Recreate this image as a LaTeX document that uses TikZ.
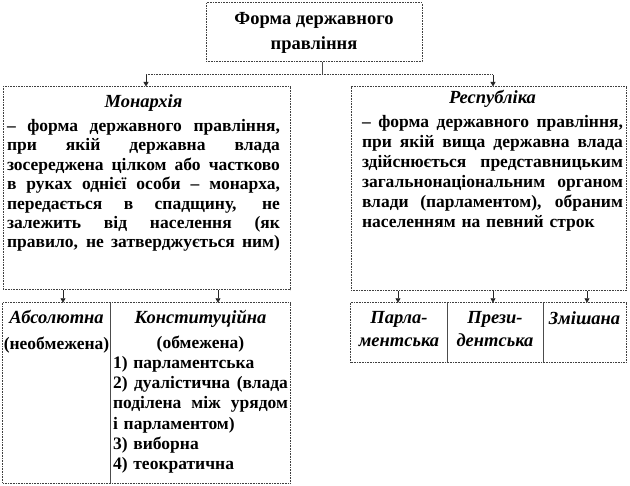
\documentclass[tikz,border=0pt]{standalone}
\usepackage{fontspec}
\setmainfont{Liberation Serif}
\usetikzlibrary{arrows.meta, positioning, calc}
\newlength\colw
\newcommand\bodyfont{\fontsize{17.5}{19.5}\selectfont\bfseries}
\newcommand\headfont{\fontsize{18.5}{25}\selectfont\bfseries}
\newcommand\itfont{\fontsize{18.5}{23}\selectfont\bfseries\itshape}
\newcommand\jline[1]{\makebox[\colw][s]{\spaceskip=0pt\xspaceskip=0pt #1}}
\newcommand\midline[1]{\makebox[\colw][c]{#1}}
\tikzset{
  arr/.style     = {-{Triangle[length=4.5pt, width=5pt]}, line width=0.8pt, draw=black!85},
  dotline/.style = {draw=black!75, line width=1pt, dash pattern=on 0.8pt off 0.8pt},
  dbox/.style    = {dotline, rectangle, inner sep=0pt},
  cell/.style    = {rectangle, inner sep=0pt},
  sepline/.style = {draw=black!70, line width=0.9pt},
  txt/.style     = {inner sep=0pt, align=left, font=\bodyfont},
  col/.style     = {txt, text width=#1, execute at begin node={\setlength\colw{#1}}},
}

\begin{document}
\begin{tikzpicture}[x=1pt, y=-1pt]
\useasboundingbox (0,0) rectangle (630,486);

%% ---- (1) Form of government ----
\node[dbox, minimum width=216pt, minimum height=59pt, align=center, font=\headfont] (form) at (314,32.5)
  {Форма державного\\правління};

%% ---- (2) Monarchy / Republic ----
\node[dbox, minimum width=287pt, minimum height=203pt] (mon) at (146.5,188.5) {};
\node[dbox, minimum width=275pt, minimum height=204pt] (rep) at (488.5,189) {};

\node[col=273pt, anchor=north, font=\fontsize{17.5}{19.4}\selectfont\bfseries] (montxt) at (143.5,94) {
  \midline{\itfont Монархія}\\[5pt]
  \jline{– форма державного правління,}\\
  \jline{при якій державна влада}\\
  \jline{зосереджена цілком або частково}\\
  \jline{в руках однієї особи – монарха,}\\
  \jline{передається в спадщину, не}\\
  \jline{залежить від населення (як}\\
  \jline{правило, не затверджується ним)}
};
\node[col=261pt, anchor=north, font=\fontsize{17.5}{20}\selectfont\bfseries] (reptxt) at (492.5,90) {
  \midline{\itfont Республіка}\\[4pt]
  \jline{– форма державного правління,}\\
  \jline{при якій вища державна влада}\\
  \jline{здійснюється представницьким}\\
  \jline{загальнонаціональним органом}\\
  \jline{влади (парламентом), обраним}\\
  населенням на певний строк
};

%% top -> monarchy / republic
\coordinate (split) at (322,75);
\coordinate (am) at (146,75);
\coordinate (ar) at (493,75);
\draw[sepline] (split |- form.south) -- (split);
\draw[dotline] (am) -- (ar);
\draw[arr] (am) -- (am |- mon.north);
\draw[arr] (ar) -- (ar |- rep.north);

%% ---- (3) Kinds of monarchy ----
\node[cell, minimum width=107pt, minimum height=180pt] (absol) at (56.5,393) {};
\node[cell, minimum width=180pt, minimum height=180pt] (const) at (200,393) {};
\draw[dotline] (absol.north west) rectangle (const.south east);
\draw[sepline] (absol.north east) -- (absol.south east);

\node[txt, align=center, anchor=north, font=\fontsize{17.5}{20}\selectfont\bfseries] (abstxt) at (56.5,310) {
  {\itfont Абсолютна}\\[6pt]
  (необмежена)
};
\node[col=175pt, anchor=north, font=\fontsize{17.5}{20.1}\selectfont\bfseries] (consttxt) at (200.5,310) {
  \midline{\itfont Конституційна}\\[5pt]
  \midline{(обмежена)}\\
  1) парламентська\\
  \jline{2) дуалістична (влада}\\
  \jline{поділена між урядом}\\
  і парламентом)\\
  3) виборна\\
  4) теократична
};

%% ---- (4) Kinds of republic ----
\node[cell, minimum width=96pt, minimum height=59pt] (parl) at (399,332.5) {};
\node[cell, minimum width=96pt, minimum height=59pt] (pres) at (495,332.5) {};
\node[cell, minimum width=83pt, minimum height=59pt] (mixed) at (584.5,332.5) {};
\draw[dotline] (parl.north west) rectangle (mixed.south east);
\draw[sepline] (parl.north east) -- (parl.south east);
\draw[sepline] (pres.north east) -- (pres.south east);

\node[txt, align=center, anchor=north, font=\itfont] (parltxt) at (parl.north |- 0,311) {Парла-\\ментська};
\node[txt, align=center, anchor=north, font=\itfont] (prestxt) at (pres.north |- 0,311) {Прези-\\дентська};
\node[txt, align=center, anchor=north, font=\itfont] (mixtxt) at (mixed.north |- 0,311) {Змішана};

%% sub-arrows
\foreach \bx/\up/\down in {63/mon/absol, 218/mon/const, 398/rep/parl, 493/rep/pres, 587/rep/mixed} {
  \coordinate (b) at (\bx,0);
  \draw[arr] (b |- \up.south) -- (b |- \down.north);
}

\end{tikzpicture}
\end{document}
